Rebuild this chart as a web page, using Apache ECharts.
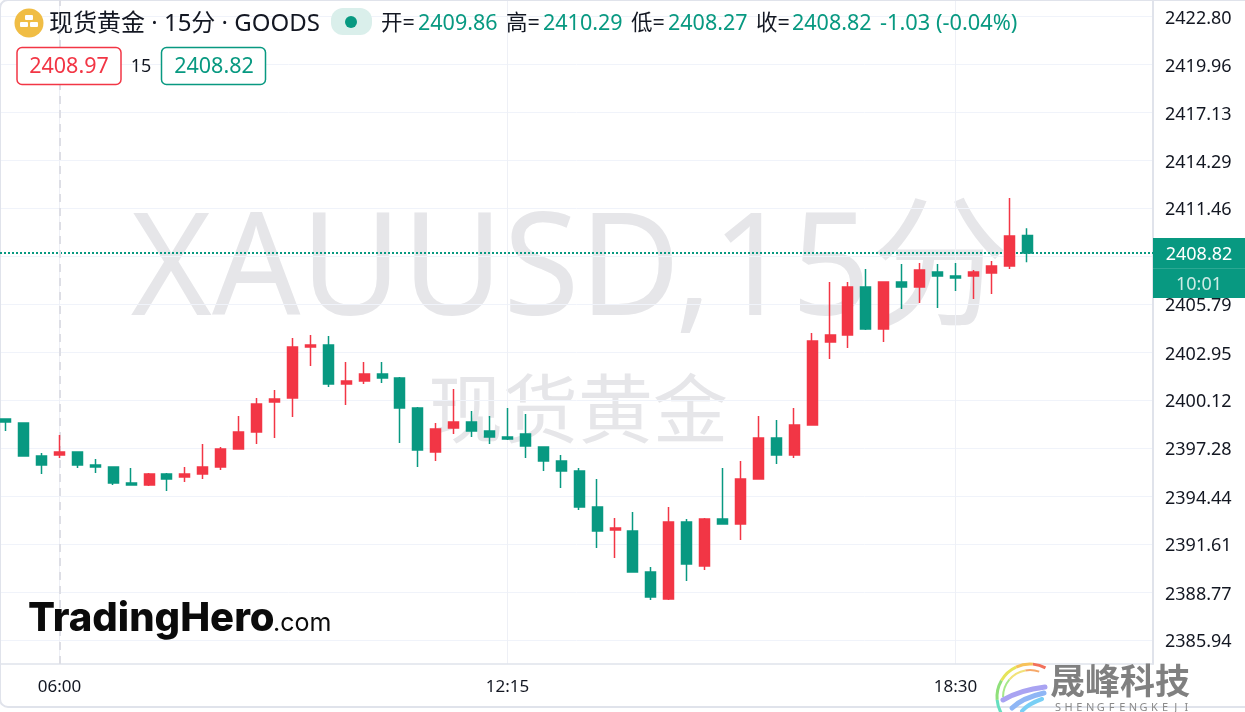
<!DOCTYPE html>
<html>
<head>
<meta charset="utf-8">
<title>XAUUSD 15分</title>
<style>
  html, body { margin: 0; padding: 0; background: #fff; }
  #main { width: 1245px; height: 712px; }
</style>
<script src="https://cdn.jsdelivr.net/npm/echarts@6/dist/echarts.min.js"></script>
</head>
<body>
<div id="main"></div>
<script>
// K线时间
var times = ['05:15', '05:30', '05:45', '06:00', '06:15', '06:30', '06:45', '07:00', '07:15', '07:30',
  '07:45', '08:00', '08:15', '08:30', '08:45', '09:00', '09:15', '09:30', '09:45', '10:00',
  '10:15', '10:30', '10:45', '11:00', '11:15', '11:30', '11:45', '12:00', '12:15', '12:30',
  '12:45', '13:00', '13:15', '13:30', '13:45', '14:00', '14:15', '14:30', '14:45', '15:00',
  '15:15', '15:30', '15:45', '16:00', '16:15', '16:30', '16:45', '17:00', '17:15', '17:30',
  '17:45', '18:00', '18:15', '18:30', '18:45', '19:00', '19:15', '19:30']
var opens = [2399.02, 2398.78, 2396.83, 2396.89, 2397.07, 2396.30, 2396.18, 2395.24, 2395.12, 2395.77,
  2395.59, 2395.77, 2396.18, 2397.24, 2398.25, 2400.02, 2400.26, 2403.27, 2403.39, 2401.08,
  2401.26, 2401.67, 2401.44, 2399.67, 2397.07, 2398.48, 2398.84, 2398.31, 2397.95, 2398.13,
  2397.36, 2396.53, 2395.94, 2393.82, 2392.46, 2392.40, 2389.98, 2388.38, 2392.93, 2390.33,
  2393.11, 2392.81, 2395.47, 2397.89, 2396.89, 2398.66, 2403.56, 2403.98, 2406.81, 2404.33,
  2407.11, 2406.81, 2407.70, 2407.46, 2407.46, 2407.64, 2408.05, 2409.86]
var closes = [2398.84, 2396.83, 2396.30, 2397.07, 2396.30, 2396.18, 2395.24, 2395.12, 2395.77, 2395.47,
  2395.77, 2396.18, 2397.24, 2398.25, 2399.90, 2400.20, 2403.27, 2403.39, 2401.08, 2401.26,
  2401.67, 2401.44, 2399.67, 2397.18, 2398.43, 2398.84, 2398.31, 2397.95, 2397.83, 2397.42,
  2396.53, 2395.94, 2393.82, 2392.40, 2392.58, 2389.98, 2388.50, 2392.93, 2390.45, 2393.11,
  2392.81, 2395.47, 2397.89, 2396.89, 2398.66, 2403.62, 2403.98, 2406.81, 2404.33, 2407.11,
  2406.81, 2407.82, 2407.46, 2407.35, 2407.70, 2408.05, 2409.83, 2408.82]
var lows = [2398.31, 2396.83, 2395.77, 2396.71, 2396.12, 2395.83, 2395.12, 2395.12, 2395.06, 2394.76,
  2395.29, 2395.47, 2396.00, 2397.24, 2397.54, 2397.89, 2399.13, 2402.15, 2400.91, 2399.84,
  2401.08, 2401.14, 2397.60, 2396.18, 2396.53, 2398.13, 2397.95, 2397.54, 2397.78, 2396.71,
  2395.94, 2394.94, 2393.64, 2391.40, 2390.81, 2389.98, 2388.32, 2388.32, 2389.45, 2390.10,
  2392.81, 2391.87, 2395.47, 2396.36, 2396.71, 2398.66, 2402.56, 2403.21, 2404.27, 2403.56,
  2405.51, 2405.87, 2405.57, 2406.58, 2406.10, 2406.40, 2407.88, 2408.27]
var highs = [2399.02, 2398.78, 2397.01, 2398.07, 2397.07, 2396.65, 2396.18, 2396.12, 2395.83, 2395.83,
  2396.18, 2397.54, 2397.36, 2399.19, 2400.26, 2400.73, 2403.80, 2403.98, 2403.92, 2402.38,
  2402.38, 2402.38, 2401.50, 2399.72, 2398.78, 2400.79, 2399.49, 2399.19, 2399.67, 2399.31,
  2397.36, 2396.89, 2396.12, 2395.47, 2393.17, 2393.52, 2390.27, 2393.82, 2393.11, 2393.17,
  2396.12, 2396.53, 2399.19, 2398.96, 2399.67, 2404.10, 2407.11, 2407.11, 2407.88, 2407.11,
  2408.17, 2408.23, 2408.17, 2408.23, 2407.82, 2408.35, 2412.07, 2410.29]
// 坐标轴刻度
var priceTicks = [2385.94, 2388.77, 2391.61, 2394.44, 2397.28, 2400.12, 2402.95, 2405.79, 2408.62, 2411.46, 2414.29, 2417.13, 2419.96, 2422.80]
var timeTicks = ['06:00', '12:15', '18:30']
var lastPrice = 2408.82
var bidPrice = '2408.97'
var askPrice = '2408.82'
var countdown = '10:01'
// 顶部图例
var ohlcNames = ['开=', '高=', '低=', '收=']
var ohlcValues = ['2409.86', '2410.29', '2408.27', '2408.82']
var changeText = '-1.03 (-0.04%)'

var RED = '#F23645'
var GREEN = '#089981'
var TEXT = '#131722'
var BORDER = '#E0E3EB'
var GRID = '#F0F3FA'
var FONT = '"Noto Sans", "Noto Sans CJK SC", sans-serif'
var LOGO_FONT = 'Inter, "Noto Sans", sans-serif'

// 组装K线数据 [x, open, close, low, high]
var candles = []
for (var i = 0; i < opens.length; i++) {
  candles.push([i, opens[i], closes[i], lows[i], highs[i]])
}

function txt(text, x, y, size, fill, extra) {
  var style = { text: text, x: x, y: y, fill: fill, fontSize: size, fontFamily: FONT, verticalAlign: 'middle', align: 'left' }
  for (var k in (extra || {})) style[k] = extra[k]
  return { type: 'text', silent: true, z: 20, style: style }
}

function curve(x1, y1, cx, cy, x2, y2, color, w) {
  return { type: 'bezierCurve', silent: true, z: 21, shape: { x1: x1, y1: y1, cpx1: cx, cpy1: cy, x2: x2, y2: y2 }, style: { stroke: color, lineWidth: w, fill: null, lineCap: 'round' } }
}

function arcPart(a0, a1, color, r, w) {
  return { type: 'arc', silent: true, z: 21, shape: { cx: 1030, cy: 697, r: r, startAngle: a0 * Math.PI / 180, endAngle: a1 * Math.PI / 180, clockwise: false }, style: { stroke: color, lineWidth: w, fill: null } }
}

var graphics = [
  // 外框
  { type: 'rect', silent: true, z: 1, shape: { x: 0, y: 0, width: 1260, height: 707, r: 8 }, style: { fill: null, stroke: BORDER, lineWidth: 2 } },
  // 水印
  { type: 'text', silent: true, z: -1, originX: 570, scaleX: 0.976, style: { text: 'XAUUSD,15分', x: 570, y: 275, align: 'center', verticalAlign: 'middle', fontSize: 142, fontFamily: FONT, fill: '#E6E6E9' } },
  { type: 'text', silent: true, z: -1, style: { text: '现货黄金', x: 578, y: 416, align: 'center', verticalAlign: 'middle', fontSize: 75, fontFamily: FONT, fill: '#E6E6E9' } },
  // 标题行
  { type: 'circle', silent: true, z: 20, shape: { cx: 29, cy: 23, r: 14.5 }, style: { fill: '#F0BD45' } },
  { type: 'rect', silent: true, z: 21, shape: { x: 25, y: 15, width: 8, height: 5, r: 1 }, style: { fill: '#fff' } },
  { type: 'rect', silent: true, z: 21, shape: { x: 20, y: 22, width: 8, height: 5, r: 1 }, style: { fill: '#fff' } },
  { type: 'rect', silent: true, z: 21, shape: { x: 30, y: 22, width: 8, height: 5, r: 1 }, style: { fill: '#fff' } },
  txt('现货黄金 · 15分 · GOODS', 49, 24, 24, TEXT),
  { type: 'rect', silent: true, z: 20, shape: { x: 331, y: 8, width: 41, height: 27, r: 12 }, style: { fill: '#DAEFEB' } },
  { type: 'circle', silent: true, z: 21, shape: { cx: 351, cy: 22, r: 6 }, style: { fill: GREEN } },
  txt(ohlcNames[0], 381, 24, 21.5, TEXT),
  txt(ohlcValues[0], 418, 24, 21.5, GREEN),
  txt(ohlcNames[1], 506, 24, 21.5, TEXT),
  txt(ohlcValues[1], 543, 24, 21.5, GREEN),
  txt(ohlcNames[2], 631, 24, 21.5, TEXT),
  txt(ohlcValues[2], 668, 24, 21.5, GREEN),
  txt(ohlcNames[3], 756, 24, 21.5, TEXT),
  txt(ohlcValues[3], 792, 24, 21.5, GREEN),
  txt(changeText, 880, 24, 21.8, GREEN),
  // 买卖价
  { type: 'rect', silent: true, z: 20, shape: { x: 17, y: 47.5, width: 104, height: 37, r: 5 }, style: { fill: '#fff', stroke: RED, lineWidth: 1.5 } },
  txt(bidPrice, 69, 67, 21.5, RED, { align: 'center' }),
  txt('15', 141, 67, 18, TEXT, { align: 'center' }),
  { type: 'rect', silent: true, z: 20, shape: { x: 161.5, y: 47.5, width: 104, height: 37, r: 5 }, style: { fill: '#fff', stroke: GREEN, lineWidth: 1.5 } },
  txt(askPrice, 214, 67, 21.5, GREEN, { align: 'center' }),
  // 现价标签
  { type: 'rect', silent: true, z: 30, shape: { x: 1153, y: 238, width: 92, height: 60 }, style: { fill: GREEN } },
  { type: 'rect', silent: true, z: 31, shape: { x: 1153, y: 268, width: 92, height: 1 }, style: { fill: 'rgba(255,255,255,0.15)' } },
  { type: 'text', silent: true, z: 32, style: { text: lastPrice.toFixed(2), x: 1199, y: 255, align: 'center', verticalAlign: 'middle', fontSize: 18, fontFamily: FONT, fill: '#fff' } },
  { type: 'text', silent: true, z: 32, style: { text: countdown, x: 1199, y: 285, align: 'center', verticalAlign: 'middle', fontSize: 18, fontFamily: FONT, fill: '#CDEBE5' } },
  // TradingHero logo
  txt('TradingHero', 28, 619, 40, '#0B0B0B', { fontWeight: 800, fontFamily: LOGO_FONT }),
  txt('.com', 273, 623, 25, '#0B0B0B', { fontWeight: 400, fontFamily: LOGO_FONT }),
  // 晟峰科技 logo
  arcPart(-62, -85, '#F2705A', 33, 3),
  arcPart(-85, -115, '#F7C25A', 33, 3),
  arcPart(-115, -150, '#E6E45A', 33, 3),
  arcPart(-150, -185, '#8FE07A', 33, 3),
  arcPart(-185, -215, '#66DFC0', 33, 3),
  arcPart(-215, -245, '#6FD4F5', 33, 3),
  arcPart(-70, -100, '#F6A868', 27, 2),
  arcPart(-100, -140, '#F2E27A', 27, 2),
  arcPart(-140, -180, '#A6E88A', 27, 2),
  curve(1045, 687, 1020, 690, 1003, 700, '#A9A3F2', 5),
  curve(1044, 693, 1022, 698, 1012, 708, '#8FB6F5', 5),
  curve(1042, 699, 1028, 704, 1022, 711, '#79CFF5', 4),
  txt('晟峰科技', 1050, 681, 35, '#808080', { fontWeight: 700, fontFamily: '"Noto Sans CJK SC", sans-serif' })
]
// 英文字符手动拉开间距
'SHENGFENGKEJI'.split('').forEach(function (ch, idx) {
  graphics.push(txt(ch, 1058 + idx * 10.7, 708, 11, '#8A8A8A', { align: 'center' }))
})

var myChart = echarts.init(document.getElementById('main'))
myChart.setOption({
  animation: false,
  textStyle: { fontFamily: FONT },
  grid: { left: 0, top: 0, width: 1153, height: 664 },
  xAxis: {
    type: 'value',
    min: -0.318,
    max: 64.02,
    axisLine: { onZero: false, lineStyle: { color: BORDER, width: 1.5 } },
    axisTick: { show: false, customValues: timeTicks.map(function (t) { return times.indexOf(t) }) },
    splitLine: { show: true, lineStyle: { color: '#EEF0F6', width: 1 } },
    axisLabel: {
      customValues: timeTicks.map(function (t) { return times.indexOf(t) }),
      color: TEXT,
      fontSize: 17,
      margin: 15,
      formatter: function (v) { return times[v] }
    }
  },
  yAxis: {
    type: 'value',
    position: 'right',
    min: 2384.54,
    max: 2423.77,
    axisLine: { show: true, onZero: false, lineStyle: { color: BORDER, width: 2 } },
    axisTick: { show: false, customValues: priceTicks },
    splitLine: { show: true, lineStyle: { color: GRID, width: 1 } },
    axisLabel: {
      customValues: priceTicks,
      color: TEXT,
      fontSize: 18,
      margin: 12,
      formatter: function (v) { return '{p|' + v.toFixed(2) + '}' },
      rich: { p: { color: TEXT, fontSize: 18, padding: [4, 0, 0, 0] } }
    }
  },
  series: [
    {
      type: 'candlestick',
      barWidth: 10.5,
      encode: { x: 0, y: [1, 2, 3, 4] },
      itemStyle: { color: RED, color0: GREEN, borderColor: RED, borderColor0: GREEN, borderWidth: 1.5 },
      data: candles,
      markLine: {
        silent: true,
        symbol: 'none',
        z: 1,
        label: { show: false },
        data: [
          { yAxis: lastPrice, lineStyle: { color: GREEN, type: [2, 2], width: 2 } },
          { xAxis: 3, lineStyle: { color: '#DDDEE5', type: [8, 6], width: 2 } }
        ]
      }
    }
  ],
  graphic: graphics
})
</script>
</body>
</html>
